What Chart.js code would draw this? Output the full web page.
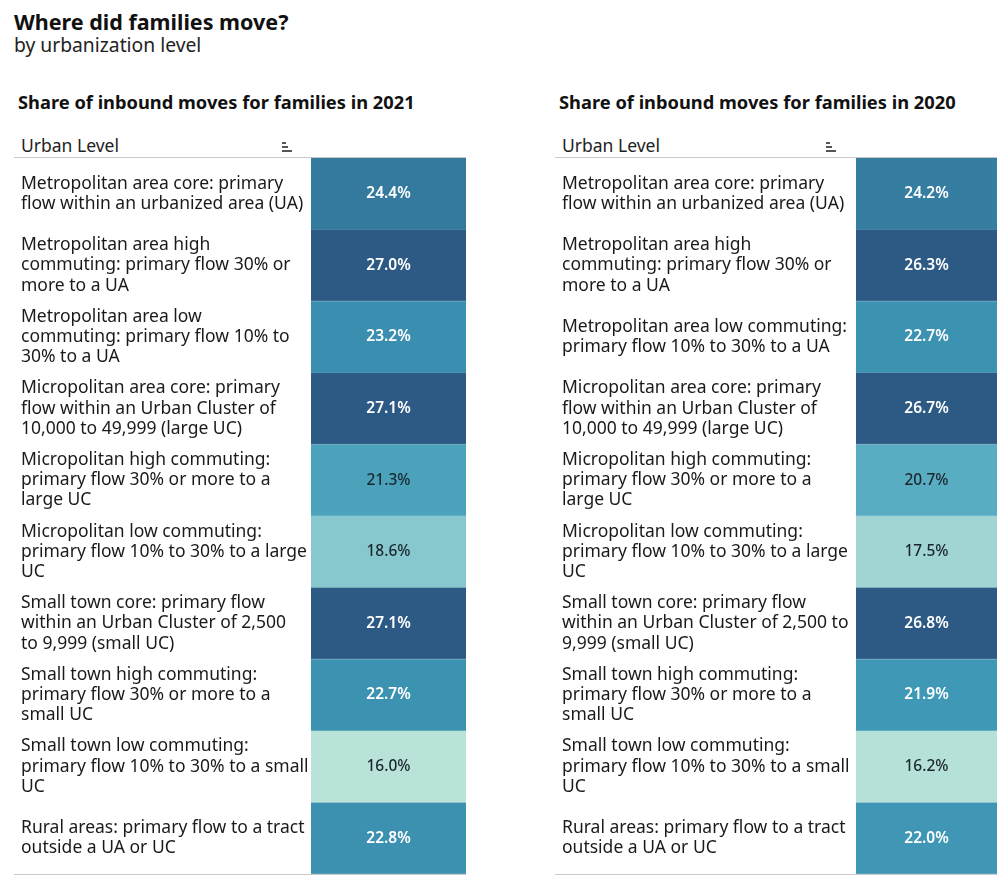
<!DOCTYPE html>
<html>
<head>
<meta charset="utf-8">
<script src="https://cdn.jsdelivr.net/npm/chart.js@4"></script>
<style>
  body { margin: 0; background: #fff; font-family: "Noto Sans", sans-serif; color: #111; }
  #page { position: relative; width: 1008px; height: 885px; overflow: hidden; }
  .title { position: absolute; left: 14px; top: 7px; font-size: 21.5px; font-weight: 700; }
  .subtitle { position: absolute; left: 14px; top: 31px; font-size: 19.3px; color: #222; }
  .panel-title { position: absolute; font-size: 18.3px; font-weight: 700; color: #111; }
  .col-head { position: absolute; font-size: 17.5px; color: #222; }
  .sort-icon { position: absolute; width: 10px; height: 10px; }
  .sort-icon span { position: absolute; left: 0; height: 1.5px; background: #555; }
  .wrap { position: absolute; border-top: 1px solid #c8c8c8; border-bottom: 1px solid #c8c8c8; }
</style>
</head>
<body>
<div id="page">
  <div class="title">Where did families move?</div>
  <div class="subtitle">by urbanization level</div>

  <div class="panel-title" style="left:18px; top:89px;">Share of inbound moves for families in 2021</div>
  <div class="col-head" style="left:21px; top:133px;">Urban Level</div>
  <div class="sort-icon" style="left:282px; top:142px;"><span style="top:0;width:4px"></span><span style="top:4px;width:6px"></span><span style="top:8px;width:10px"></span></div>
  <div class="wrap" style="left:14px; top:157px; width:452px; height:716px;"><canvas id="chart2021"></canvas></div>

  <div class="panel-title" style="left:559px; top:89px;">Share of inbound moves for families in 2020</div>
  <div class="col-head" style="left:562px; top:133px;">Urban Level</div>
  <div class="sort-icon" style="left:826px; top:142px;"><span style="top:0;width:4px"></span><span style="top:4px;width:6px"></span><span style="top:8px;width:10px"></span></div>
  <div class="wrap" style="left:555px; top:157px; width:442px; height:716px;"><canvas id="chart2020"></canvas></div>
</div>

<script>
// row labels, wrapped the way each panel shows them
const labels2021 = [
  ['Metropolitan area core: primary', 'flow within an urbanized area (UA)'],
  ['Metropolitan area high', 'commuting: primary flow 30% or', 'more to a UA'],
  ['Metropolitan area low', 'commuting: primary flow 10% to', '30% to a UA'],
  ['Micropolitan area core: primary', 'flow within an Urban Cluster of', '10,000 to 49,999 (large UC)'],
  ['Micropolitan high commuting:', 'primary flow 30% or more to a', 'large UC'],
  ['Micropolitan low commuting:', 'primary flow 10% to 30% to a large', 'UC'],
  ['Small town core: primary flow', 'within an Urban Cluster of 2,500', 'to 9,999 (small UC)'],
  ['Small town high commuting:', 'primary flow 30% or more to a', 'small UC'],
  ['Small town low commuting:', 'primary flow 10% to 30% to a small', 'UC'],
  ['Rural areas: primary flow to a tract', 'outside a UA or UC']
];
const labels2020 = [
  ['Metropolitan area core: primary', 'flow within an urbanized area (UA)'],
  ['Metropolitan area high', 'commuting: primary flow 30% or', 'more to a UA'],
  ['Metropolitan area low commuting:', 'primary flow 10% to 30% to a UA'],
  ['Micropolitan area core: primary', 'flow within an Urban Cluster of', '10,000 to 49,999 (large UC)'],
  ['Micropolitan high commuting:', 'primary flow 30% or more to a', 'large UC'],
  ['Micropolitan low commuting:', 'primary flow 10% to 30% to a large', 'UC'],
  ['Small town core: primary flow', 'within an Urban Cluster of 2,500 to', '9,999 (small UC)'],
  ['Small town high commuting:', 'primary flow 30% or more to a', 'small UC'],
  ['Small town low commuting:', 'primary flow 10% to 30% to a small', 'UC'],
  ['Rural areas: primary flow to a tract', 'outside a UA or UC']
];

// share of inbound moves (%)
const share2021 = [24.4, 27.0, 23.2, 27.1, 21.3, 18.6, 27.1, 22.7, 16.0, 22.8];
const share2020 = [24.2, 26.3, 22.7, 26.7, 20.7, 17.5, 26.8, 21.9, 16.2, 22.0];

// colour scale
const colorStops = [
  [16.0, [185, 227, 217]],
  [17.5, [160, 213, 212]],
  [18.6, [135, 200, 206]],
  [20.7, [88, 173, 194]],
  [21.9, [63, 152, 181]],
  [23.2, [58, 142, 175]],
  [24.4, [52, 122, 158]],
  [26.3, [45, 90, 132]]
];

function scaleColor(v, mixWhite) {
  let c = colorStops[colorStops.length - 1][1];
  if (v <= colorStops[0][0]) c = colorStops[0][1];
  for (let i = 0; i < colorStops.length - 1; i++) {
    const a = colorStops[i], b = colorStops[i + 1];
    if (v >= a[0] && v <= b[0]) {
      const t = (v - a[0]) / (b[0] - a[0]);
      c = a[1].map((ch, k) => Math.round(ch + (b[1][k] - ch) * t));
      break;
    }
  }
  if (mixWhite) c = c.map(ch => Math.round(ch + (255 - ch) * mixWhite));
  return `rgb(${c[0]}, ${c[1]}, ${c[2]})`;
}

const cellLabels = {
  id: 'cellLabels',
  afterDatasetsDraw(chart) {
    const ctx = chart.ctx;
    const values = chart.data.datasets[0].shares;
    chart.getDatasetMeta(0).data.forEach((bar, i) => {
      const v = values[i];
      const light = v >= 21.5;
      ctx.save();
      ctx.font = (light ? '600 ' : '500 ') + '15.5px "Noto Sans", sans-serif';
      ctx.fillStyle = light ? '#ffffff' : '#1c2630';
      ctx.textAlign = 'center';
      ctx.textBaseline = 'middle';
      ctx.fillText(v.toFixed(1) + '%', (bar.x + bar.base) / 2, bar.y);
      ctx.restore();
    });
  }
};

function makeTable(canvasId, labels, shares, axisWidth) {
  const ctx = document.getElementById(canvasId);
  return new Chart(ctx, {
    type: 'bar',
    data: {
      labels: labels,
      datasets: [{
        shares: shares,
        data: shares.map(() => [0, 1]),
        backgroundColor: shares.map(v => scaleColor(v)),
        borderColor: shares.map(v => scaleColor(v, 0.18)),
        borderWidth: { top: 0, left: 0, right: 0, bottom: 1 },
        borderSkipped: false,
        barPercentage: 1,
        categoryPercentage: 1
      }]
    },
    plugins: [cellLabels],
    options: {
      indexAxis: 'y',
      responsive: true,
      maintainAspectRatio: false,
      animation: false,
      layout: { padding: { left: 7, top: 0, right: 0, bottom: 0 } },
      plugins: {
        legend: { display: false },
        tooltip: { enabled: false }
      },
      scales: {
        x: { display: false, min: 0, max: 1 },
        y: {
          grid: { display: false, drawTicks: false },
          border: { display: false },
          ticks: {
            autoSkip: false,
            crossAlign: 'far',
            padding: 0,
            color: '#1a1a1a',
            font: { family: '"Noto Sans", sans-serif', size: 17.5, lineHeight: 1.15 }
          },
          afterFit(axis) {
            axis.width = axisWidth;
            // rows are offset, so the labels never spill over the edges
            axis.paddingTop = 0;
            axis.paddingBottom = 0;
          }
        }
      }
    }
  });
}

makeTable('chart2021', labels2021, share2021, 290);
makeTable('chart2020', labels2020, share2020, 294);
</script>
</body>
</html>
